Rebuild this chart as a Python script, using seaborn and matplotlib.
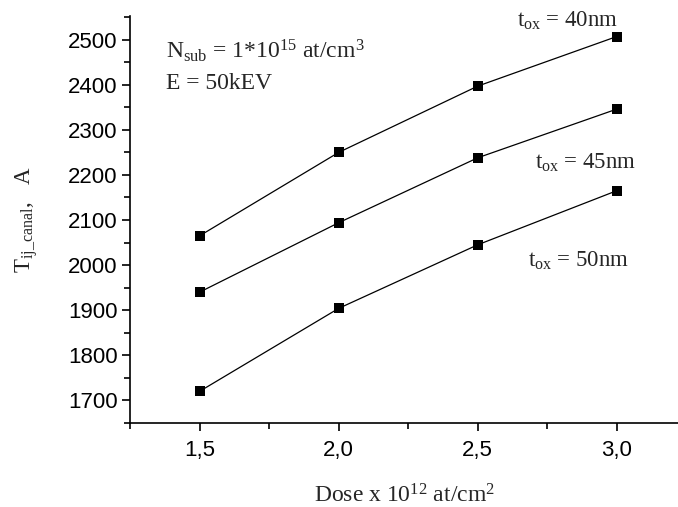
import seaborn as sns
import pandas as pd
import matplotlib.pyplot as plt
import numpy as np
from matplotlib.ticker import MultipleLocator

# Values
dose = [1.5, 2.0, 2.5, 3.0]
t_40nm = [2065, 2250, 2397, 2507]
t_45nm = [1940, 2094, 2238, 2346]
t_50nm = [1720, 1904, 2045, 2165]
series_names = ["40nm", "45nm", "50nm"]
x_tick_labels = ["1,5", "2,0", "2,5", "3,0"]

df = pd.DataFrame({
    "dose": dose * 3,
    "T": t_40nm + t_45nm + t_50nm,
    "tox": [n for n in series_names for _ in dose],
})

sns.set_style("ticks")
plt.rcParams['font.family'] = ['Liberation Sans', 'DejaVu Sans']
plt.rcParams['mathtext.fontset'] = 'custom'
plt.rcParams['mathtext.rm'] = 'Liberation Serif'
plt.rcParams['mathtext.it'] = 'Liberation Serif:italic'

serif = ['Liberation Serif', 'DejaVu Serif']

fig = plt.figure(figsize=(6.78, 5.07), dpi=100)
ax = fig.add_axes([0.192, 0.166, 0.808, 0.802])

sns.lineplot(data=df, x="dose", y="T", units="tox", estimator=None,
             color="black", marker="s", markersize=7, markeredgewidth=0,
             linewidth=0.9, ax=ax, legend=False)

ax.set_xlim(1.25, 3.22)
ax.set_ylim(1650, 2552)
ax.xaxis.set_minor_locator(MultipleLocator(0.25))
ax.yaxis.set_major_locator(MultipleLocator(100))
ax.yaxis.set_minor_locator(MultipleLocator(50))
ax.set_xticks(dose)
ax.set_xticklabels(x_tick_labels)

ax.tick_params(axis='both', which='major', length=6, width=1.2, labelsize=16, direction='out', colors='black')
ax.tick_params(axis='both', which='minor', length=4, width=1.2, direction='out', colors='black')
ax.tick_params(axis='x', pad=6)
ax.tick_params(axis='y', pad=3)

for side in ['top', 'right']:
    ax.spines[side].set_visible(False)
for side in ['left', 'bottom']:
    ax.spines[side].set_linewidth(1.2)
    ax.spines[side].set_color('black')

ax.set_xlabel(r"Dose x 10$^{12}$ at/cm$^2$", family=serif, fontsize=17, labelpad=17)
ax.set_ylabel(r"T$_{\rm ij\_canal}$,   A", family=serif, fontsize=16.5, labelpad=20)

ax.text(2.64, 2542, r"t$_{\rm ox}$ = 40nm", family=serif, fontsize=16.5, va='center')
ax.text(2.705, 2227, r"t$_{\rm ox}$ = 45nm", family=serif, fontsize=16.5, va='center')
ax.text(2.68, 2010, r"t$_{\rm ox}$ = 50nm", family=serif, fontsize=16.5, va='center')
ax.text(1.378, 2476, r"N$_{\rm sub}$ = 1*10$^{15}$ at/cm$^3$", family=serif, fontsize=17, va='center')
ax.text(1.378, 2402, "E = 50kEV", family=serif, fontsize=17, va='center')

fig.savefig("out.png", dpi=100)
